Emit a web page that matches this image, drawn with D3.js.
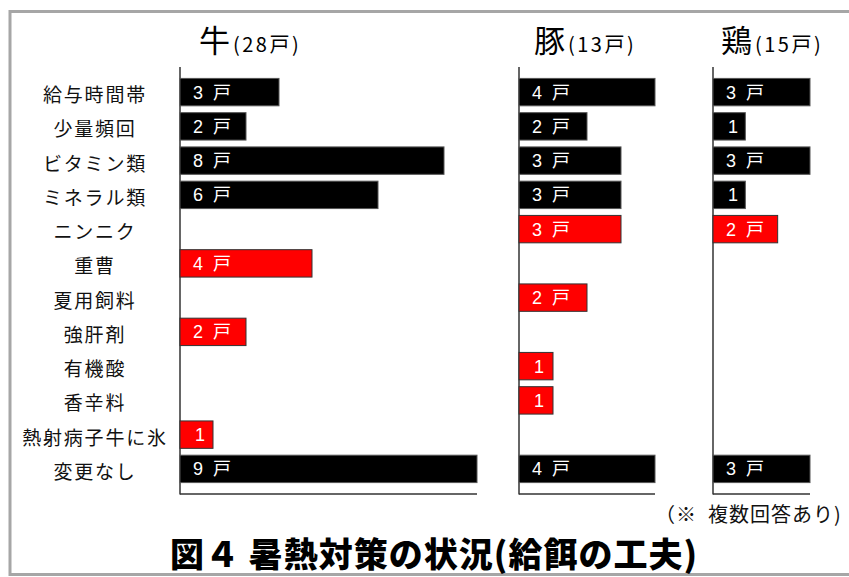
<!DOCTYPE html>
<html>
<head>
<meta charset="utf-8">
<script src="https://cdn.jsdelivr.net/npm/d3@7"></script>
<style>
  html, body { margin: 0; padding: 0; background: #fff; }
  svg { display: block; }
</style>
</head>
<body>
<svg id="chart" width="849" height="577"></svg>
<script>
// 給餌の工夫（複数回答）: 畜種別の戸数
const categories = ['給与時間帯', '少量頻回', 'ビタミン類', 'ミネラル類', 'ニンニク', '重曹',
  '夏用飼料', '強肝剤', '有機酸', '香辛料', '熱射病子牛に氷', '変更なし'];
// 赤で示す項目
const highlighted = ['ニンニク', '重曹', '夏用飼料', '強肝剤', '有機酸', '香辛料', '熱射病子牛に氷'];

const species = ['牛', '豚', '鶏'];
const totals = [28, 13, 15];
const cattle = [3, 2, 8, 6, 0, 4, 0, 2, 0, 0, 1, 9];
const pigs = [4, 2, 3, 3, 3, 0, 2, 0, 1, 1, 0, 4];
const chickens = [3, 1, 3, 1, 2, 0, 0, 0, 0, 0, 0, 3];
const seriesValues = [cattle, pigs, chickens];

const titleText = '図４ 暑熱対策の状況(給餌の工夫)';
const noteText = '（※\u2002複数回答あり)';

const svg = d3.select('#chart');
const jp = '"Noto Sans CJK JP", "Noto Sans", sans-serif';

// 外枠
svg.append('path')
  .attr('d', 'M 860 11.5 H 10 V 574.5 H 860')
  .attr('fill', 'none')
  .attr('stroke', '#a6a6a6')
  .attr('stroke-width', 3);

// 縦方向（項目）スケール
const y = d3.scaleBand()
  .domain(categories)
  .range([67, 494])
  .paddingInner(0.2)
  .paddingOuter(0.333);

// 項目ラベル
svg.append('g')
  .selectAll('text')
  .data(categories)
  .join('text')
  .attr('x', 95)
  .attr('y', d => y(d) + y.bandwidth() / 2 + 10)
  .attr('text-anchor', 'middle')
  .attr('font-family', jp)
  .attr('font-size', 19)
  .attr('letter-spacing', 1.8)
  .attr('fill', '#111')
  .text(d => d);

// 各畜種のパネル配置
const panels = [
  { left: 180, width: 297, titleX: 199 },
  { left: 519, width: 136, titleX: 534 },
  { left: 713, width: 97, titleX: 721 }
];

species.forEach((sp, i) => {
  const vals = seriesValues[i];
  const p = panels[i];
  const x = d3.scaleLinear()
    .domain([0, d3.max(vals)])
    .range([p.left, p.left + p.width]);

  const g = svg.append('g');

  // タイトル（畜種と戸数）
  const t = g.append('text')
    .attr('x', p.titleX)
    .attr('y', 52)
    .attr('font-family', jp)
    .attr('fill', '#000');
  t.append('tspan').attr('font-size', 31).text(sp);
  t.append('tspan').attr('font-size', 20).attr('dx', 3).attr('letter-spacing', 2.5)
    .text('(' + totals[i] + '戸)');

  // 軸線
  g.append('line')
    .attr('x1', x(0)).attr('x2', x(0))
    .attr('y1', 67).attr('y2', 494.5)
    .attr('stroke', '#333').attr('stroke-width', 1.5);
  g.append('line')
    .attr('x1', x(0)).attr('x2', x.range()[1])
    .attr('y1', 494).attr('y2', 494)
    .attr('stroke', '#333').attr('stroke-width', 1.5);

  const rows = categories.map((c, k) => ({ cat: c, v: vals[k] })).filter(d => d.v > 0);

  // 棒
  g.selectAll('rect')
    .data(rows)
    .join('rect')
    .attr('x', x(0))
    .attr('y', d => y(d.cat))
    .attr('width', d => x(d.v) - x(0))
    .attr('height', y.bandwidth())
    .attr('fill', d => highlighted.includes(d.cat) ? '#ff0000' : '#000')
    .attr('stroke', d => highlighted.includes(d.cat) ? '#333' : '#555')
    .attr('stroke-width', 1);

  // 戸数ラベル
  g.selectAll('text.val')
    .data(rows)
    .join('text')
    .attr('class', 'val')
    .attr('x', d => x(0) + (d.v === 1 ? 15 : 13))
    .attr('y', d => y(d.cat) + y.bandwidth() / 2 + 6.5)
    .attr('font-family', '"Liberation Sans", "Noto Sans CJK JP", sans-serif')
    .attr('font-size', 18)
    .attr('letter-spacing', 2.5)
    .attr('fill', '#fff')
    .text(d => d.v === 1 ? '1' : d.v + ' 戸');
});

// 注記
svg.append('text')
  .attr('x', 655)
  .attr('y', 522)
  .attr('font-family', jp)
  .attr('font-size', 20)
  .attr('letter-spacing', 1)
  .attr('fill', '#111')
  .text(noteText);

// 図題
svg.append('text')
  .attr('x', 170)
  .attr('y', 567)
  .attr('font-family', jp)
  .attr('font-size', 34)
  .attr('font-weight', 900)
  .attr('letter-spacing', 1)
  .attr('fill', '#000')
  .text(titleText);
</script>
</body>
</html>
